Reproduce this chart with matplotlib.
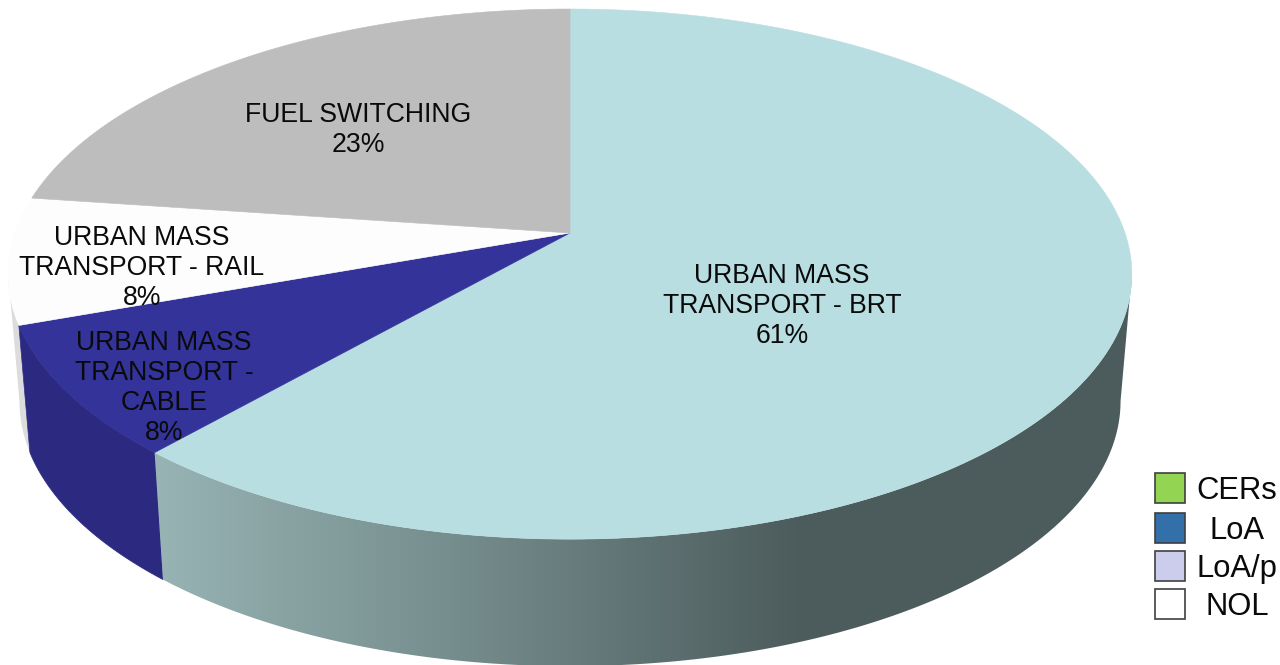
import numpy as np
import matplotlib
matplotlib.use("Agg")
import matplotlib.pyplot as plt
from matplotlib.colors import LinearSegmentedColormap
from matplotlib.patches import Polygon, Rectangle

plt.rcParams["font.family"] = ["Liberation Sans", "DejaVu Sans"]

# slices run clockwise from 12 o'clock, shares
slice_names = ["URBAN MASS\nTRANSPORT - BRT", "URBAN MASS\nTRANSPORT -\nCABLE", "URBAN MASS\nTRANSPORT - RAIL", "FUEL SWITCHING"]
slice_shares = [61.5, 8.0, 7.7, 22.8]
slice_pct = ["61%", "8%", "8%", "23%"]
slice_colors = ["#b8dee1", "#333399", "#fdfdfd", "#bdbdbd"]
label_x = [782, 164, 142, 358]
label_y = [306, 388, 268, 130]

legend_names = ["CERs", "LoA", "LoA/p", "NOL"]
legend_colors = ["#93d452", "#336fa9", "#ccccec", "#ffffff"]
legend_y = [473, 513, 551, 589]
legend_text_y = [491, 531, 569, 607]

# perspective of the pie
CX, CY = 570, 233
A, B, K = 555, 258.7, 0.155
DEPTH = 127
BOTTOM_SCALE = 0.98


def rim(theta, bottom=False):
    # theta in degrees clockwise from the top
    t = np.radians(theta)
    w = 1 + K * np.cos(t)
    x = A * np.sin(t) / w
    y = -B * np.cos(t) / w
    if bottom:
        return CX + BOTTOM_SCALE * x, CY + DEPTH + y
    return CX + x, CY + y


def side(start, end):
    th = np.linspace(start, end, 200)
    x1, y1 = rim(th)
    x2, y2 = rim(th, bottom=True)
    return np.column_stack([np.r_[x1, x2[::-1]], np.r_[y1, y2[::-1]]])


fig = plt.figure(figsize=(12.8, 6.65), dpi=100)
ax = fig.add_axes([0, 0, 1, 1])
ax.axis("off")

edges = np.r_[0, np.cumsum(slice_shares)] / np.sum(slice_shares) * 360
right_th = 90 + np.degrees(np.arcsin(K))
left_th = 270 - np.degrees(np.arcsin(K))

# side walls
ax.add_patch(Polygon(side(edges[2], left_th), fc="#dcdcdc", ec="none", zorder=1))
ax.add_patch(Polygon(side(edges[1], edges[2]), fc="#2b2a80", ec="#2b2a80", lw=0.5, zorder=2))

brt_side = Polygon(side(right_th, edges[1]), transform=ax.transData, fc="none", ec="none")
ax.add_patch(brt_side)
cmap = LinearSegmentedColormap.from_list("side", ["#4c5b5b", "#4c5b5b", "#738a8b", "#99b5b5"])
grad = np.linspace(0, 1, 256).reshape(1, -1)
img = ax.imshow(grad, cmap=cmap, extent=[1135, 145, 680, 0], aspect="auto", zorder=2)
img.set_clip_path(brt_side)

# top faces
for i in range(4):
    th = np.linspace(edges[i], edges[i + 1], 200)
    x, y = rim(th)
    pts = np.column_stack([np.r_[CX, x], np.r_[CY, y]])
    ax.add_patch(Polygon(pts, fc=slice_colors[i], ec=slice_colors[i], lw=0.4, zorder=3))
    ax.text(label_x[i], label_y[i], slice_names[i] + "\n" + slice_pct[i], ha="center", va="center",
            fontsize=19.2, linespacing=1.2, color="#0a0a0a", zorder=5)

# legend
for name, col, y, ty in zip(legend_names, legend_colors, legend_y, legend_text_y):
    ax.add_patch(Rectangle((1155, y), 30, 30, fc=col, ec="#404040", lw=1.2, zorder=4))
    ax.text(1237, ty, name, ha="center", va="center", fontsize=22.3, color="#0a0a0a", zorder=5)

ax.set_xlim(0, 1280)
ax.set_ylim(665, 0)
fig.savefig("out.png", dpi=100)
